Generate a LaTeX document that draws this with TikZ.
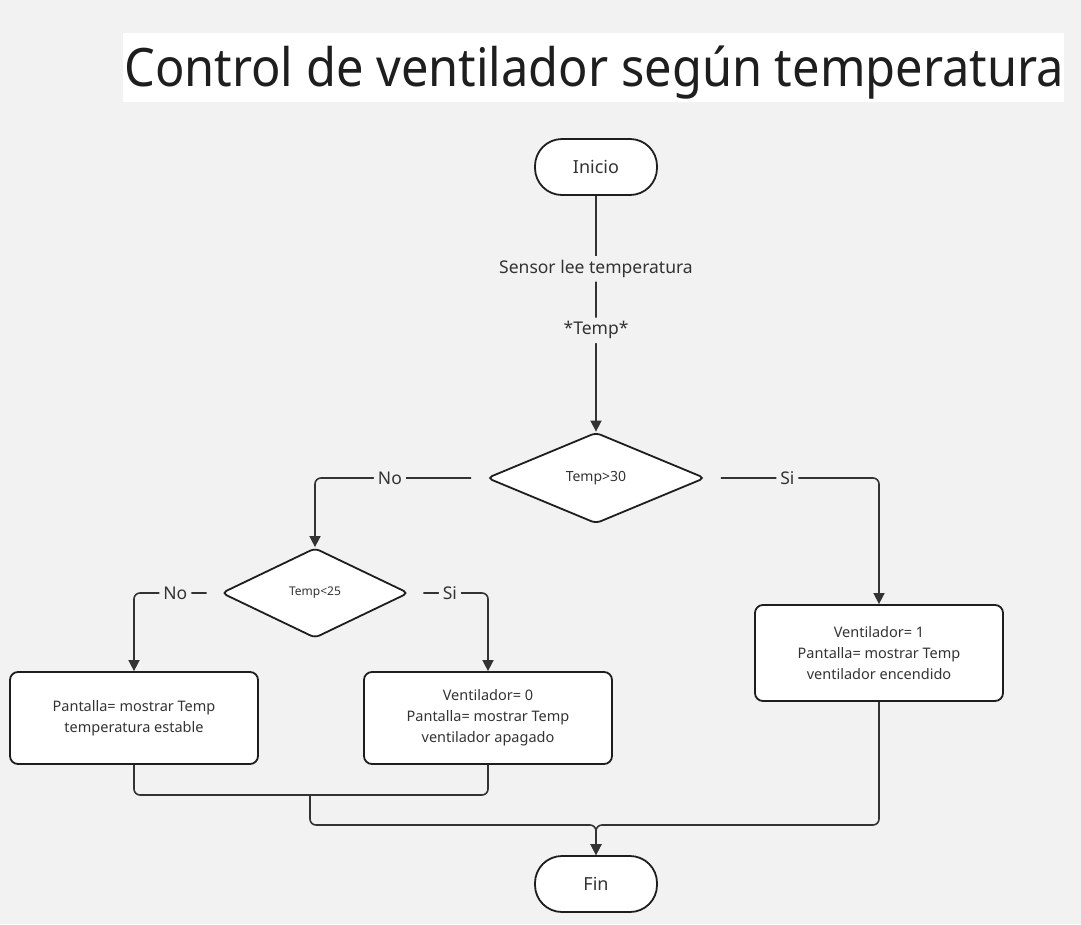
\documentclass[tikz,border=0pt]{standalone}
\usepackage{fontspec}
\setmainfont{Noto Sans}
\newfontfamily\titlefont[FakeStretch=0.92]{Noto Sans}
\usetikzlibrary{shapes.geometric,arrows.meta,positioning}
\definecolor{paper}{HTML}{F2F2F2}
\definecolor{ink}{HTML}{1E1E1E}
\definecolor{wire}{HTML}{333333}
\definecolor{txt}{HTML}{333333}

\begin{document}
\begin{tikzpicture}[x=1pt,y=-1pt,
    term/.style={draw=ink,fill=white,line width=1.8pt,rounded corners=27pt,
      minimum width=122pt,minimum height=56pt,text=txt,font=\fontsize{18}{22}\selectfont},
    decide/.style={diamond,draw=ink,fill=white,line width=1.8pt,rounded corners=5pt,
      inner sep=0pt,text=txt},
    task/.style={draw=ink,fill=white,line width=1.8pt,rounded corners=8pt,
      minimum width=248pt,align=center,text=txt,font=\fontsize{14.5}{21}\selectfont},
    wire/.style={draw=wire,line width=1.6pt,rounded corners=6pt},
    flow/.style={wire,-{Triangle[length=11pt,width=11pt]}},
    tag/.style={fill=paper,text=txt,inner sep=4pt,font=\fontsize{17.5}{20}\selectfont}]
  \useasboundingbox (0,0) rectangle (1081,924);
  \fill[paper] (0,0) rectangle (1081,924);

  % title
  \fill[white] (123,33) rectangle (1064,102);
  \node[anchor=base west,inner sep=0pt,text=ink,font=\titlefont\fontsize{53}{60}\selectfont]
    (title) at (124,86) {Control de ventilador según temperatura};

  % nodes
  \node[term] (inicio) at (596,167) {Inicio};
  \node[decide,minimum width=218pt,minimum height=91pt,font=\fontsize{14}{16}\selectfont]
    (mayor) at (596,478) {Temp>30};
  \node[decide,minimum width=187pt,minimum height=90pt,font=\fontsize{12}{14}\selectfont]
    (menor) at (315,593) {Temp<25};
  \node[task,minimum height=92pt] (estable) at (134,718)
    {Pantalla= mostrar Temp\\temperatura estable};
  \node[task,minimum height=92pt] (apagado) at (488,718)
    {Ventilador= 0\\Pantalla= mostrar Temp\\ventilador apagado};
  \node[task,minimum height=96pt] (encendido) at (879,653)
    {Ventilador= 1\\Pantalla= mostrar Temp\\ventilador encendido};
  \node[term] (fin) at (596,884) {Fin};

  % connectors
  \draw[flow] (inicio.south) -- node[tag,pos=0.31]{Sensor lee temperatura}
    node[tag,pos=0.57]{*Temp*} (mayor.north);
  \draw[flow] ([xshift=-15pt]mayor.west) -| node[tag,pos=0.26]{No} (menor.north);
  \draw[flow] ([xshift=15pt]mayor.east) -| node[tag,pos=0.21]{Si} (encendido.north);
  \draw[flow] ([xshift=-14pt]menor.west) -| node[tag,pos=0.215]{No} (estable.north);
  \draw[flow] ([xshift=14pt]menor.east) -| node[tag,pos=0.205]{Si} (apagado.north);

  \coordinate (junta) at (310,795);
  \coordinate (bus) at (596,825);
  \draw[wire] (estable.south) |- (junta) -| (apagado.south);
  \draw[flow] (junta) |- (bus) -- (fin.north);
  \draw[flow] (encendido.south) |- (bus) -- (fin.north);
\end{tikzpicture}
\end{document}
